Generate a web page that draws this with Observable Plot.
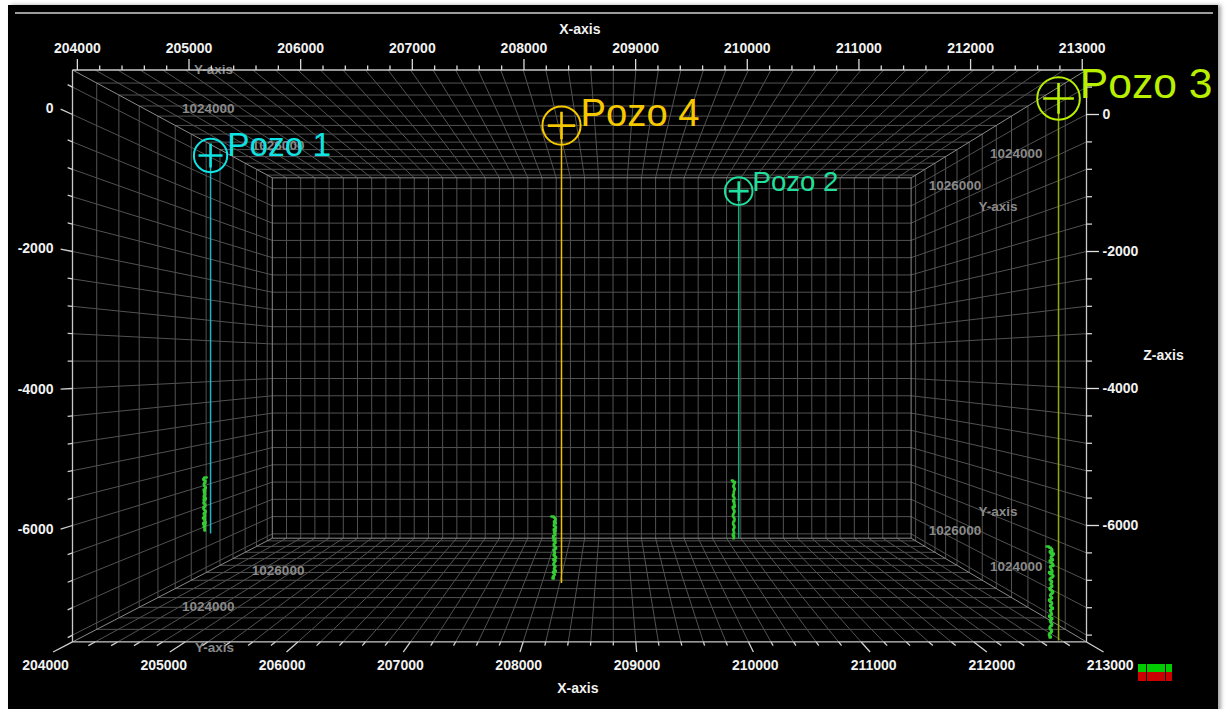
<!DOCTYPE html>
<html>
<head>
<meta charset="utf-8">
<script src="https://cdn.jsdelivr.net/npm/d3@7"></script>
<script src="https://cdn.jsdelivr.net/npm/@observablehq/plot@0.6"></script>
<style>
  html, body { margin: 0; padding: 0; background: #fff; }
  #stage { position: relative; width: 1228px; height: 709px; overflow: hidden; }
  #panel { position: absolute; left: 8px; top: 5px; width: 1210px; height: 710px; background: #000;
           box-shadow: 3px 0 4px rgba(0,0,0,0.35); }
  #topbar { position: absolute; left: 15px; top: 12px; width: 1198px; height: 2px; background: #9c9c9c; }
  #chart { position: absolute; left: 0; top: 0; }
  #badge { position: absolute; left: 1138px; top: 664px; display: flex; gap: 1px; }
  #badge .cell { display: flex; flex-direction: column; }
  #badge .g { height: 8px; background: #00cc00; }
  #badge .r { height: 9px; background: #cc0000; }
</style>
</head>
<body>
<div id="stage">
  <div id="panel"></div>
  <div id="topbar"></div>
  <div id="chart"></div>
  <div id="badge">
    <div class="cell" style="width:8px"><div class="g"></div><div class="r"></div></div>
    <div class="cell" style="width:18px"><div class="g"></div><div class="r"></div></div>
    <div class="cell" style="width:6px"><div class="g"></div><div class="r"></div></div>
  </div>
</div>
<script>
// ---- Survey box and axis ticks ----
const xLimits = [204000, 213000];        // Easting (X)
const yLimits = [1022000, 1027000];      // Northing (Y), front plane to back plane
const zLimits = [-7700, 650];            // Elevation (Z)
const xTickValues = [204000, 205000, 206000, 207000, 208000, 209000, 210000, 211000, 212000, 213000];
const zTickValues = [0, -2000, -4000, -6000];
const yTickValues = [1024000, 1026000];
const gridStep = {x: 200, y: 400, z: 400};

// ---- Wells ----
const wellNames = ["Pozo 1", "Pozo 2", "Pozo 3", "Pozo 4"];
const wellX = [204515, 210417, 212510, 208319];
const wellY = [1023695, 1025830, 1021480, 1022400];
const wellTopZ = [0, 0, 0, 0];
const wellBottomZ = [-6616, -7350, -7431, -6993];
const logTopZ = [-5637, -6124, -6142, -5975];
const logBottomZ = [-6563, -7350, -7390, -6923];
const wellColors = ["#0fe3e3", "#1fe09c", "#b8f000", "#f5c800"];
const lineColors = ["#17b9bf", "#17a87c", "#8fb000", "#f0c000"];

// Well-log amplitudes, top to bottom (plotted toward -X from the well trace)
const log1 = [40, 95, 60, 72, 35, 80, 55, 90, 45, 70, 30, 85, 62, 50, 92, 40, 75, 58, 88, 33, 68, 80, 45, 96, 55, 70, 38, 82, 64, 90, 48, 75, 28, 86, 60, 72, 42, 94, 66, 52, 80, 36, 70, 88, 50, 62, 84, 45, 74, 58];
const log2 = [90, 60, 40, 72, 55, 85, 35, 66, 50, 78, 44, 92, 58, 70, 38, 82, 62, 48, 75, 30, 68, 88, 52, 64, 42, 80, 56, 95, 46, 70, 34, 76, 60, 86, 50, 66, 40, 84, 58, 72, 45, 90, 62, 54, 70];
const log3 = [100, 55, 70, 40, 62, 85, 48, 30, 66, 52, 78, 36, 58, 90, 44, 68, 25, 60, 82, 50, 72, 38, 64, 95, 46, 56, 30, 74, 60, 88, 42, 66, 52, 80, 34, 70, 58, 92, 48, 62, 28, 76, 54, 86, 40, 68, 60, 98, 44, 72, 36, 84, 56, 64, 30, 90, 50, 78, 42, 70, 62, 96, 38, 66, 54, 88, 46, 74, 32, 82, 58, 92, 48, 70, 40, 86, 60, 100, 52, 76];
const log4 = [95, 50, 70, 38, 80, 60, 45, 88, 55, 72, 30, 84, 62, 48, 92, 40, 76, 58, 100, 44, 68, 82, 36, 74, 56, 90, 48, 66, 34, 86, 60, 78, 42, 96, 52, 70, 30, 88, 64, 46, 80, 58, 94, 40, 72, 56, 85, 38, 68, 90, 50, 76, 62, 98, 70];
const wellLogs = [log1, log2, log3, log4];

// ---- Screen scales of the front plane ----
const xRange = [72, 1086];
const yDomain = [0, -6000], yRange = [114, 525];
const PX_PER_Z = (yRange[1] - yRange[0]) / (yDomain[0] - yDomain[1]);

// ---- One-point perspective, expressed in data units ----
const VX = 208793, VZ = -3606;           // vanishing point
const BACK_SCALE = 0.63;                 // size of the back plane relative to the front plane
const [X0, X1] = xLimits, [Y0, Y1] = yLimits, [Z0, Z1] = zLimits;
const PERSP = (1 / BACK_SCALE - 1) / (Y1 - Y0);
const depthK = Y => 1 / (1 + PERSP * (Y - Y0));
const at = (X, Z, k) => ({x: VX + (X - VX) * k, y: VZ + (Z - VZ) * k});
const P = (X, Y, Z) => at(X, Z, depthK(Y));
const seg = (a, b) => ({x1: a.x, y1: a.y, x2: b.x, y2: b.y});

const gx = d3.range(X0 + gridStep.x, X1, gridStep.x);
const gy = d3.range(Y0 + gridStep.y, Y1, gridStep.y);
const gz = d3.range(Math.ceil(Z0 / gridStep.z) * gridStep.z, Z1, gridStep.z);

// grid on the back wall, floor, ceiling and side walls
const grid = [];
for (const x of gx) {
  grid.push(seg(P(x, Y1, Z0), P(x, Y1, Z1)));
  grid.push(seg(P(x, Y0, Z0), P(x, Y1, Z0)));
  grid.push(seg(P(x, Y0, Z1), P(x, Y1, Z1)));
}
for (const z of gz) {
  grid.push(seg(P(X0, Y1, z), P(X1, Y1, z)));
  grid.push(seg(P(X0, Y0, z), P(X0, Y1, z)));
  grid.push(seg(P(X1, Y0, z), P(X1, Y1, z)));
}
for (const y of gy) {
  grid.push(seg(P(X0, y, Z0), P(X1, y, Z0)));
  grid.push(seg(P(X0, y, Z1), P(X1, y, Z1)));
  grid.push(seg(P(X0, y, Z0), P(X0, y, Z1)));
  grid.push(seg(P(X1, y, Z0), P(X1, y, Z1)));
}
const backEdges = [
  seg(P(X0, Y1, Z0), P(X1, Y1, Z0)), seg(P(X0, Y1, Z1), P(X1, Y1, Z1)),
  seg(P(X0, Y1, Z0), P(X0, Y1, Z1)), seg(P(X1, Y1, Z0), P(X1, Y1, Z1)),
  seg(P(X0, Y0, Z0), P(X0, Y1, Z0)), seg(P(X1, Y0, Z0), P(X1, Y1, Z0)),
  seg(P(X0, Y0, Z1), P(X0, Y1, Z1)), seg(P(X1, Y0, Z1), P(X1, Y1, Z1))
];
const frontEdges = [
  seg(P(X0, Y0, Z0), P(X0, Y0, Z1)), seg(P(X0, Y0, Z1), P(X1, Y0, Z1)),
  seg(P(X0, Y0, Z0), P(X1, Y0, Z0)), seg(P(X1, Y0, Z0), P(X1, Y0, Z1))
];

// ---- axes ----
const TOP_K = 0.991, BOTTOM_LABEL_K = 1.05, LEFT_LABEL_K = 1.026;
const xMinor = d3.range(X0, X1 + 1, 200);
const zMinor = d3.range(-7600, 401, 400);
const isMajorX = v => v % 1000 === 0;
const isMajorZ = v => v % 2000 === 0;

const topTicks = xMinor.map(v => {
  const x = at(v, Z1, TOP_K).x;
  const len = (isMajorX(v) ? 11 : 4.5) / PX_PER_Z;
  return {x1: x, x2: x, y1: Z1, y2: Z1 + len};
});
const bottomTicks = xMinor.map(v => seg(at(v, Z0, 1), at(v, Z0, 1 + (isMajorX(v) ? 0.036 : 0.013))));
const leftTicks = zMinor.map(v => seg(at(X0, v, 1), at(X0, v, 1 + (isMajorZ(v) ? 0.022 : 0.009))));
const rightTicks = zMinor.map(v => ({y: v, major: isMajorZ(v)}));

const topLabels = xTickValues.map(v => ({...at(v, Z1, TOP_K), y: Z1, text: String(v)}));
const bottomLabels = xTickValues.map(v => ({...at(v, Z0, BOTTOM_LABEL_K), text: String(v)}));
const leftLabels = zTickValues.map(v => ({...at(X0, v, LEFT_LABEL_K), text: String(v)}));
const rightLabels = zTickValues.map(v => ({x: X1, y: v, text: String(v)}));

// Y (northing) labels drawn on the box walls
const yLabelSets = [
  {pts: yTickValues.map(v => ({...P(X0, v, Z1), text: String(v)})), dx: 33, dy: -17},
  {pts: yTickValues.map(v => ({...P(X0, v, Z0), text: String(v)})), dx: 33, dy: 18},
  {pts: yTickValues.map(v => ({...P(X1, v, 0), text: String(v)})), dx: 20, dy: -8},
  {pts: yTickValues.map(v => ({...P(X1, v, Z0), text: String(v)})), dx: 20, dy: -22}
];
const yTitles = [
  {pt: P(X0, Y0, Z1), dx: 141, dy: 0},
  {pt: P(X0, Y0, Z0), dx: 142, dy: 6},
  {pt: P(X1, yTickValues[1], 0), dx: 63, dy: 13},
  {pt: P(X1, yTickValues[1], Z0), dx: 63, dy: -41}
];

// ---- wells ----
const wells = wellNames.map((name, i) => {
  const k = depthK(wellY[i]);
  const head = P(wellX[i], wellY[i], wellTopZ[i]);
  const foot = P(wellX[i], wellY[i], wellBottomZ[i]);
  const log = wellLogs[i];
  const n = log.length;
  const curve = log.map((a, j) => P(wellX[i] - a, wellY[i], logTopZ[i] + (logBottomZ[i] - logTopZ[i]) * j / (n - 1)));
  return {name, k, head, foot, curve, color: wellColors[i], line: lineColors[i], r: 20 * k, font: 40 * k};
});

const plusSymbol = {draw(ctx, size) { const a = Math.sqrt(size / Math.PI); ctx.moveTo(-a, 0); ctx.lineTo(a, 0); ctx.moveTo(0, -a); ctx.lineTo(0, a); }};

const font = "Liberation Sans, Arial, Helvetica, sans-serif";
const tickText = {fill: "#f2f2f2", fontSize: 14, fontWeight: "bold"};
const yText = {fill: "#8a8a8a", fontSize: 13.5, fontWeight: "bold"};
const linkXY = {x1: "x1", y1: "y1", x2: "x2", y2: "y2"};

const chart = Plot.plot({
  width: 1228,
  height: 709,
  margin: 0,
  x: {domain: xLimits, range: xRange, axis: null},
  y: {domain: yDomain, range: yRange, axis: null},
  r: {type: "identity"},
  style: {background: "transparent", fontFamily: font, overflow: "visible"},
  marks: [
    // box grid and edges
    Plot.link(grid, {...linkXY, stroke: "#525252", strokeWidth: 1}),
    Plot.link(backEdges, {...linkXY, stroke: "#8a8a8a", strokeWidth: 1}),
    ...yLabelSets.map(s => Plot.text(s.pts, {x: "x", y: "y", text: "text", dx: s.dx, dy: s.dy, ...yText})),
    ...yTitles.map(t => Plot.text([t.pt], {x: "x", y: "y", text: () => "Y-axis", dx: t.dx, dy: t.dy, ...yText})),
    Plot.link(frontEdges, {...linkXY, stroke: "#c8c8c8", strokeWidth: 1.3}),
    // top X axis
    Plot.link(topTicks, {...linkXY, stroke: "#dcdcdc", strokeWidth: 1.3}),
    Plot.text(topLabels, {x: "x", y: "y", text: "text", dy: -21, ...tickText}),
    Plot.text([at((X0 + X1) / 2, Z1, TOP_K)], {x: "x", y: "y", text: () => "X-axis", dy: -43, ...tickText}),
    // bottom X axis
    Plot.link(bottomTicks, {...linkXY, stroke: "#d0d0d0", strokeWidth: 1.3}),
    Plot.text(bottomLabels, {x: "x", y: "y", text: "text", dy: 9.5, ...tickText}),
    Plot.text([at((X0 + X1) / 2, Z0, BOTTOM_LABEL_K)], {x: "x", y: "y", text: () => "X-axis", dy: 33, ...tickText}),
    // left Z axis
    Plot.link(leftTicks, {...linkXY, stroke: "#d0d0d0", strokeWidth: 1.3}),
    Plot.text(leftLabels, {x: "x", y: "y", text: "text", dx: -5, textAnchor: "end", ...tickText}),
    // right Z axis
    Plot.ruleY(rightTicks.filter(d => d.major), {y: "y", x1: X1, x2: X1, insetRight: -13, stroke: "#e0e0e0", strokeWidth: 1.3}),
    Plot.ruleY(rightTicks.filter(d => !d.major), {y: "y", x1: X1, x2: X1, insetRight: -6, stroke: "#d0d0d0", strokeWidth: 1.3}),
    Plot.text(rightLabels, {x: "x", y: "y", text: "text", dx: 16, textAnchor: "start", ...tickText}),
    Plot.text([{x: X1, y: (Z0 + Z1) / 2}], {x: "x", y: "y", text: () => "Z-axis", dx: 77, ...tickText}),
    // wells: trace, log curve, wellhead symbol and name
    ...wells.map(w => Plot.link([seg(w.head, w.foot)], {...linkXY, stroke: w.line, strokeWidth: 1.5})),
    ...wells.map(w => Plot.line(w.curve, {x: "x", y: "y", curve: "step", stroke: "#33cc33", strokeWidth: 2.4})),
    ...wells.map(w => Plot.dot([w.head], {x: "x", y: "y", r: () => w.r, fill: "none", stroke: w.color, strokeWidth: 2})),
    ...wells.map(w => Plot.dot([w.head], {x: "x", y: "y", r: () => 0.72 * w.r, symbol: plusSymbol, fill: "none", stroke: w.color, strokeWidth: 2.6})),
    ...wells.map(w => Plot.text([w.head], {x: "x", y: "y", text: () => w.name, dx: w.r, textAnchor: "start", lineAnchor: "bottom", fill: w.color, fontSize: w.font, fontWeight: "normal"}))
  ]
});
document.getElementById("chart").append(chart);
</script>
</body>
</html>
